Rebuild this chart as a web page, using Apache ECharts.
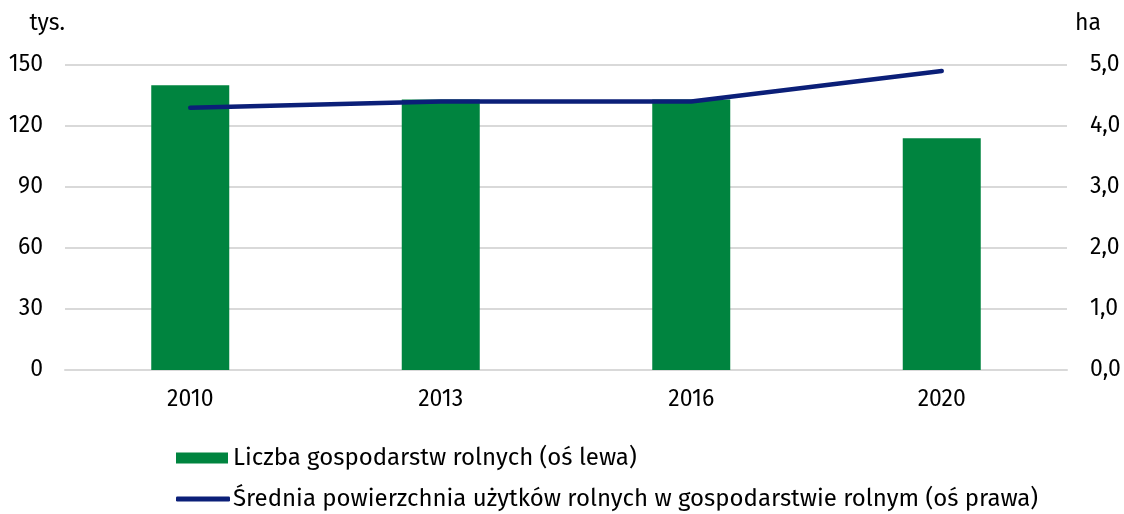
<!DOCTYPE html>
<html><head><meta charset="utf-8">
<script src="https://cdn.jsdelivr.net/npm/echarts@6/dist/echarts.min.js"></script>
<style>html,body{margin:0;padding:0;background:#fff}#c{width:1124px;height:514px}</style>
</head><body><div id="c"></div>
<script>
const categories = ['2010', '2013', '2016', '2020'];
const farms = [140, 133, 133, 114];
const avgArea = [4.3, 4.4, 4.4, 4.9];
const leftTicks = { min: 0, max: 150, interval: 30 };
const rightTicks = { min: 0, max: 5, interval: 1 };
const farmsName = 'Liczba gospodarstw rolnych (oś lewa)';
const areaName = 'Średnia powierzchnia użytków rolnych w gospodarstwie rolnym (oś prawa)';

const font = 'Fira Sans, "Noto Sans", "Open Sans", sans-serif';
const navy = '#0b1f78';
const green = '#00843f';
const chart = echarts.init(document.getElementById('c'));
chart.setOption({
  animation: false,
  textStyle: { fontFamily: font },
  grid: { left: 65, right: 57, top: 65, bottom: 144 },
  legend: [
    {
      orient: 'horizontal', left: 171, top: 441,
      itemWidth: 52, itemHeight: 11, itemGap: 0,
      textStyle: { fontSize: 24, color: '#000', fontFamily: font },
      data: [{ name: farmsName, icon: 'rect' }]
    },
    {
      orient: 'horizontal', left: 171, top: 482,
      itemWidth: 54, itemHeight: 5, itemGap: 0,
      textStyle: { fontSize: 24, color: '#000', fontFamily: font, padding: [0,0,0,-2] },
      data: [{ name: areaName, icon: 'roundRect', itemStyle: { color: navy } }]
    }
  ],
  xAxis: {
    type: 'category', data: categories,
    axisLine: { show: true, lineStyle: { color: '#d9d9d9', width: 2 } },
    axisTick: { show: false },
    axisLabel: { color: '#000', fontSize: 23, margin: 18 }
  },
  yAxis: [
    {
      type: 'value', min: leftTicks.min, max: leftTicks.max, interval: leftTicks.interval,
      name: 'tys.', nameLocation: 'end', nameGap: 30,
      nameTextStyle: { color: '#000', fontSize: 23, align: 'right', padding: [0, 0, 0, 0] },
      axisLine: { show: false }, axisTick: { show: false },
      axisLabel: { color: '#000', fontSize: 23, margin: 22 },
      splitLine: { lineStyle: { color: '#d9d9d9', width: 2 } }
    },
    {
      type: 'value', min: rightTicks.min, max: rightTicks.max, interval: rightTicks.interval,
      name: 'ha', nameLocation: 'end', nameGap: 30,
      nameTextStyle: { color: '#000', fontSize: 23, align: 'left', padding: [0, 0, 0, 8] },
      axisLine: { show: false }, axisTick: { show: false },
      axisLabel: { color: '#000', fontSize: 23, margin: 23,
        formatter: v => v.toFixed(1).replace('.', ',') },
      splitLine: { show: false }
    }
  ],
  series: [
    {
      name: farmsName, type: 'bar', data: farms, yAxisIndex: 0,
      barWidth: 78, itemStyle: { color: green }
    },
    {
      name: areaName, type: 'line', data: avgArea, yAxisIndex: 1,
      symbol: 'none', lineStyle: { color: navy, width: 4.5, cap: 'round' },
      itemStyle: { color: navy }
    }
  ]
});
</script></body></html>
